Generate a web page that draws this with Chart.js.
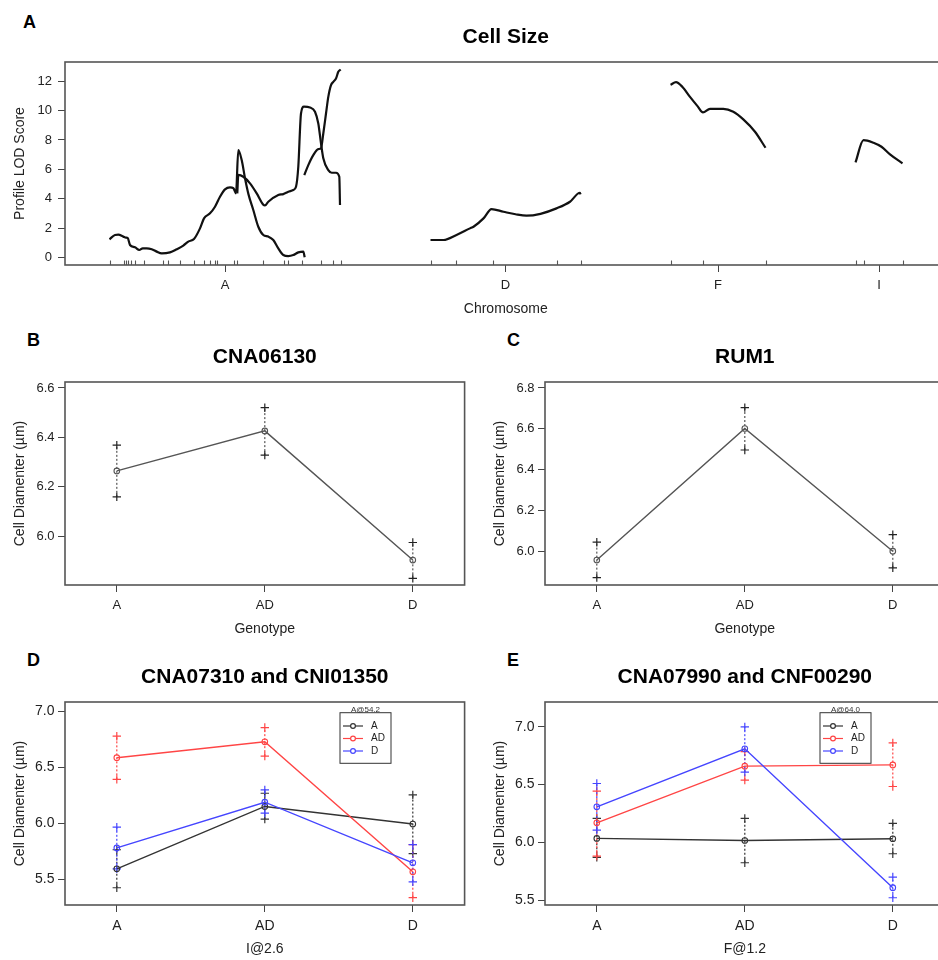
<!DOCTYPE html>
<html>
<head>
<meta charset="utf-8">
<title>Cell Size QTL</title>
<script src="https://cdn.jsdelivr.net/npm/chart.js@4.4.0/dist/chart.umd.min.js"></script>
<style>
    html, body { margin: 0; padding: 0; background: #fff; }
    body { width: 938px; height: 960px; overflow: hidden; position: relative; font-family: "Liberation Sans", Arial, sans-serif; }
    .panel { position: absolute; }
    .tag { position: absolute; font-weight: bold; font-size: 18px; line-height: 18px; color: #000; }
</style>
</head>
<body>
<div class="tag" style="left:23px;top:13px">A</div>
<div class="tag" style="left:27px;top:331px">B</div>
<div class="tag" style="left:507px;top:331px">C</div>
<div class="tag" style="left:27px;top:651px">D</div>
<div class="tag" style="left:507px;top:651px">E</div>

<div class="panel" style="left:0;top:0"><canvas id="chart-a" width="950" height="320"></canvas></div>
<div class="panel" style="left:0;top:320px"><canvas id="chart-b" width="470" height="320"></canvas></div>
<div class="panel" style="left:480px;top:320px"><canvas id="chart-c" width="470" height="320"></canvas></div>
<div class="panel" style="left:0;top:640px"><canvas id="chart-d" width="470" height="320"></canvas></div>
<div class="panel" style="left:480px;top:640px"><canvas id="chart-e" width="470" height="320"></canvas></div>

<script>
// --- Panel A: profile LOD (cM along chromosome, LOD) ---
const chromosomes = ['A', 'D', 'F', 'I'];
const chrLengths = [231, 150, 95, 47];
const chrGap = 90;
const lodTicks = [0, 2, 4, 6, 8, 10, 12];

const markersA = [0, 14.5, 16.5, 18.5, 21, 25, 34, 53, 58.5, 70.5, 84.5, 94.5, 100.5, 105.5, 107, 124.5, 127, 153, 174.5, 178, 192, 211.5, 223, 231];
const markersD = [0, 25, 62, 126, 150];
const markersF = [0, 32, 95];
const markersI = [0, 8.5, 47];

const lodA1 = [[0,1.25],[5.5,1.54],[8.8,1.56],[13.8,1.43],[16.5,1.36],[18.2,1.34],[20.5,0.86],[25.5,0.7],[29.8,0.52],[33.2,0.63],[37.2,0.63],[42.2,0.57],[47.2,0.41],[52.2,0.29],[60.5,0.36],[67.2,0.57],[73.8,0.82],[78.8,1.09],[84.5,1.27],[90.5,1.99],[94.5,2.67],[100.5,3.01],[105.5,3.46],[110.5,4.14],[115.5,4.64],[120.5,4.78],[123.8,4.72],[125.5,4.5],[126.5,4.37],[128.8,7.31],[132.2,6.63],[135.5,5.4],[139,4.3],[143.8,3.24],[148.8,2.1],[153.8,1.54],[158.8,1.43],[163.8,1.2],[168.8,0.63],[173.8,0.18],[178.8,0.11],[183.8,0.18],[188.8,0.36],[193.8,0.41],[195.2,0.02]];
const lodA2 = [[127.8,4.37],[128.8,5.62],[133.8,5.5],[140.5,5.05],[147.2,4.37],[153.8,3.6],[155.5,3.55],[158.8,3.8],[168.8,4.26],[173.8,4.32],[178.8,4.48],[183.8,4.6],[186.5,4.82],[188.8,6.18],[191.5,9.8],[194.5,10.26],[200.5,10.21],[205.5,9.92],[208.8,9.12],[211.5,7.77],[213.8,6.75],[218.8,5.95],[222.2,5.77],[226.5,5.77],[229.8,5.5],[230.5,3.58]];
const lodA3 = [[194.8,5.61],[198.8,6.29],[203.8,6.97],[208.8,7.38],[211.5,7.43],[213.8,8.44],[216.5,9.8],[218.8,10.93],[221.5,11.73],[223.8,11.95],[226.5,12.18],[228.8,12.63],[231.2,12.79]];
const lodD = [[0,1.2],[13,1.2],[26,1.54],[39.5,1.99],[43,2.1],[53,2.67],[61,3.3],[73,3.12],[85,2.95],[96,2.85],[110,2.98],[126,3.35],[139.5,3.8],[149.5,4.41],[150,4.3]];
const lodF = [[0,11.75],[5.5,11.93],[12,11.6],[19.5,10.93],[27,10.3],[32.5,9.87],[39.5,10.12],[52.8,10.12],[62.8,9.92],[72.8,9.4],[84.5,8.56],[95,7.47]];
const lodI = [[0,6.47],[8,7.99],[18,7.81],[26,7.54],[34.5,7.02],[47,6.41]];

// --- Panels B-E: cell diameter by genotype ---
const genotypes = ['A', 'AD', 'D'];

const cna06130Mean = [6.264, 6.426, 5.903];
const cna06130Upper = [6.368, 6.520, 5.974];
const cna06130Lower = [6.159, 6.328, 5.829];

const rum1Mean = [5.960, 6.602, 6.003];
const rum1Upper = [6.047, 6.704, 6.084];
const rum1Lower = [5.874, 6.497, 5.922];

// D: x = genotype at I@2.6, series = genotype at A@54.2
const dMeanA = [5.595, 6.151, 5.994];
const dUpperA = [5.765, 6.269, 6.254];
const dLowerA = [5.426, 6.038, 5.731];
const dMeanAD = [6.586, 6.728, 5.568];
const dUpperAD = [6.778, 6.855, 5.811];
const dLowerAD = [6.393, 6.600, 5.337];
const dMeanD = [5.781, 6.189, 5.648];
const dUpperD = [5.967, 6.299, 5.811];
const dLowerD = [5.595, 6.092, 5.479];

// E: x = genotype at F@1.2, series = genotype at A@64.0
const eMeanA = [6.034, 6.016, 6.031];
const eUpperA = [6.207, 6.207, 6.164];
const eLowerA = [5.870, 5.823, 5.901];
const eMeanAD = [6.169, 6.660, 6.671];
const eUpperAD = [6.443, 6.786, 6.862];
const eLowerAD = [5.881, 6.539, 6.484];
const eMeanD = [6.308, 6.810, 5.607];
const eUpperD = [6.510, 7.000, 5.699];
const eLowerD = [6.106, 6.608, 5.520];

// --- Shared styling ---
const FONT = '"Liberation Sans", Arial, Helvetica, sans-serif';
const RED = '#ff4545';
const BLUE = '#4545ff';
const DARK = '#333';

const chrStart = [];
chrLengths.forEach((len, i) => {
    chrStart.push(i === 0 ? 0 : chrStart[i - 1] + chrLengths[i - 1] + chrGap);
});
const chrMid = chrStart.map((s, i) => s + chrLengths[i] / 2);

// box around the plot region
const framePlugin = {
    id: 'frame',
    afterDatasetsDraw(chart) {
        const { ctx, chartArea: a } = chart;
        ctx.save();
        ctx.strokeStyle = '#555';
        ctx.lineWidth = 1.6;
        ctx.strokeRect(a.left, a.top, a.right - a.left, a.bottom - a.top);
        ctx.restore();
    }
};

// marker rug along the bottom of panel A
const rugPlugin = {
    id: 'rug',
    afterDatasetsDraw(chart) {
        const { ctx, chartArea: a, scales } = chart;
        ctx.save();
        ctx.strokeStyle = '#555';
        ctx.lineWidth = 1.1;
        [markersA, markersD, markersF, markersI].forEach((list, c) => {
            list.forEach(cm => {
                const px = Math.round(scales.x.getPixelForValue(chrStart[c] + cm)) + 0.5;
                ctx.beginPath();
                ctx.moveTo(px, a.bottom);
                ctx.lineTo(px, a.bottom - 4.5);
                ctx.stroke();
            });
        });
        ctx.restore();
    }
};

function makeLegend(title, names, colors) {
    return {
        id: 'genoLegend',
        afterDatasetsDraw(chart) {
            const { ctx, chartArea: a } = chart;
            const x = a.left + 275, y = a.top + 10.7, w = 51, h = 50.6;
            ctx.save();
            ctx.fillStyle = '#fff';
            ctx.fillRect(x, y, w, h);
            ctx.strokeStyle = '#333';
            ctx.lineWidth = 1;
            ctx.strokeRect(x, y, w, h);
            ctx.fillStyle = '#333';
            ctx.font = '8px ' + FONT;
            ctx.textAlign = 'center';
            ctx.textBaseline = 'alphabetic';
            ctx.fillText(title, x + w / 2, y - 0.5);
            names.forEach((n, i) => {
                const ry = y + 13.3 + i * 12.5;
                ctx.strokeStyle = colors[i];
                ctx.lineWidth = 1.2;
                ctx.beginPath();
                ctx.moveTo(x + 3, ry);
                ctx.lineTo(x + 23, ry);
                ctx.stroke();
                ctx.beginPath();
                ctx.fillStyle = '#fff';
                ctx.arc(x + 13, ry, 2.4, 0, Math.PI * 2);
                ctx.fill();
                ctx.stroke();
                ctx.fillStyle = '#222';
                ctx.font = '10px ' + FONT;
                ctx.textAlign = 'left';
                ctx.textBaseline = 'middle';
                ctx.fillText(n, x + 31, ry);
            });
            ctx.restore();
        }
    };
}

// 1. Common options
function buildOptions(cfg) {
    return {
        responsive: false,
        animation: false,
        events: [],
        layout: { padding: { left: 0, right: cfg.padRight, top: 0, bottom: 0 } },
        plugins: {
            legend: { display: false },
            tooltip: { enabled: false },
            title: {
                display: true,
                text: cfg.title,
                fullSize: false,
                color: '#000',
                font: { family: FONT, size: 21, weight: 'bold', lineHeight: 1.2 },
                padding: { top: 25, bottom: 11.8 }
            }
        },
        scales: {
            x: {
                type: 'linear',
                min: cfg.xMin,
                max: cfg.xMax,
                afterBuildTicks: axis => { axis.ticks = cfg.xTicks.map(v => ({ value: v })); },
                afterFit: axis => { axis.height = 55; },
                ticks: {
                    callback: (v, i) => cfg.xLabels[i],
                    color: '#222',
                    font: { family: FONT, size: cfg.tickSize },
                    padding: 6,
                    maxRotation: 0,
                    autoSkip: false
                },
                grid: { drawOnChartArea: false, drawTicks: true, tickLength: 7, color: '#444', tickColor: '#444' },
                border: { display: false },
                title: { display: true, text: cfg.xTitle, color: '#222', font: { family: FONT, size: 14 }, padding: { top: 0, bottom: 2 } }
            },
            y: {
                type: 'linear',
                min: cfg.yMin,
                max: cfg.yMax,
                afterBuildTicks: axis => { axis.ticks = cfg.yTicks.map(v => ({ value: v })); },
                afterFit: axis => { axis.width = 65; },
                ticks: {
                    callback: cfg.yFormat,
                    color: '#222',
                    font: { family: FONT, size: cfg.tickSize },
                    padding: cfg.yPad
                },
                grid: { drawOnChartArea: false, drawTicks: true, tickLength: 7, color: '#444', tickColor: '#444' },
                border: { display: false },
                title: { display: true, text: cfg.yTitle, color: '#222', font: { family: FONT, size: 14 }, padding: { top: 12, bottom: 0 } }
            }
        }
    };
}

// 2. Genotype series: mean line + dotted range with crosses
function genotypeSeries(name, means, uppers, lowers, lineColor, crossColor, order) {
    const sets = [{
        label: name,
        data: means.map((m, i) => ({ x: i + 1, y: m })),
        borderColor: lineColor,
        borderWidth: 1.4,
        pointStyle: 'circle',
        pointRadius: 2.8,
        pointBorderWidth: 1.1,
        pointBorderColor: lineColor,
        pointBackgroundColor: 'rgba(255,255,255,0)',
        order: order
    }];
    means.forEach((m, i) => {
        sets.push({
            label: name + ' ' + genotypes[i],
            data: [{ x: i + 1, y: lowers[i] }, { x: i + 1, y: uppers[i] }],
            borderColor: lineColor,
            borderWidth: 1.2,
            borderDash: [2, 2],
            pointStyle: 'cross',
            pointRadius: 4.2,
            pointBorderWidth: 1.2,
            pointBorderColor: crossColor,
            order: order + 10
        });
    });
    return sets;
}

function lodSet(chrIndex, curve) {
    return {
        data: curve.map(([cm, lod]) => ({ x: chrStart[chrIndex] + cm, y: lod })),
        borderColor: '#111',
        borderWidth: 2.2,
        pointRadius: 0,
        cubicInterpolationMode: 'monotone'
    };
}

const fmt1 = v => Number(v).toFixed(1);

// 3. Panel A
new Chart(document.getElementById('chart-a'), {
    type: 'line',
    data: {
        datasets: [
            lodSet(0, lodA1), lodSet(0, lodA2), lodSet(0, lodA3),
            lodSet(1, lodD), lodSet(2, lodF), lodSet(3, lodI)
        ]
    },
    options: buildOptions({
        title: 'Cell Size', xTitle: 'Chromosome', yTitle: 'Profile LOD Score',
        xMin: -44.5, xMax: 837.1, xTicks: chrMid, xLabels: chromosomes,
        yMin: -0.5, yMax: 13.3, yTicks: lodTicks, yFormat: v => String(v),
        tickSize: 13, yPad: 6, padRight: 3.4
    }),
    plugins: [framePlugin, rugPlugin]
});

// 4. Panels B and C
const genoBase = {
    xTitle: 'Genotype', yTitle: 'Cell Diamenter (µm)',
    xMin: 0.65, xMax: 3.35, xTicks: [1, 2, 3], xLabels: genotypes,
    yFormat: fmt1, tickSize: 13, yPad: 3.5, padRight: 3
};

new Chart(document.getElementById('chart-b'), {
    type: 'line',
    data: { datasets: genotypeSeries('CNA06130', cna06130Mean, cna06130Upper, cna06130Lower, '#555', '#222', 1) },
    options: buildOptions(Object.assign({}, genoBase, {
        title: 'CNA06130', yMin: 5.802, yMax: 6.624, yTicks: [6.0, 6.2, 6.4, 6.6]
    })),
    plugins: [framePlugin]
});

new Chart(document.getElementById('chart-c'), {
    type: 'line',
    data: { datasets: genotypeSeries('RUM1', rum1Mean, rum1Upper, rum1Lower, '#555', '#222', 1) },
    options: buildOptions(Object.assign({}, genoBase, {
        title: 'RUM1', yMin: 5.838, yMax: 6.829, yTicks: [6.0, 6.2, 6.4, 6.6, 6.8]
    })),
    plugins: [framePlugin]
});

// 5. Panels D and E
const seriesColors = [DARK, RED, BLUE];

new Chart(document.getElementById('chart-d'), {
    type: 'line',
    data: {
        datasets: [].concat(
            genotypeSeries('A', dMeanA, dUpperA, dLowerA, DARK, DARK, 3),
            genotypeSeries('AD', dMeanAD, dUpperAD, dLowerAD, RED, RED, 2),
            genotypeSeries('D', dMeanD, dUpperD, dLowerD, BLUE, BLUE, 1)
        )
    },
    options: buildOptions(Object.assign({}, genoBase, {
        title: 'CNA07310 and CNI01350', xTitle: 'I@2.6', tickSize: 14,
        yMin: 5.272, yMax: 7.083, yTicks: [5.5, 6.0, 6.5, 7.0]
    })),
    plugins: [framePlugin, makeLegend('A@54.2', genotypes, seriesColors)]
});

new Chart(document.getElementById('chart-e'), {
    type: 'line',
    data: {
        datasets: [].concat(
            genotypeSeries('A', eMeanA, eUpperA, eLowerA, DARK, DARK, 3),
            genotypeSeries('AD', eMeanAD, eUpperAD, eLowerAD, RED, RED, 2),
            genotypeSeries('D', eMeanD, eUpperD, eLowerD, BLUE, BLUE, 1)
        )
    },
    options: buildOptions(Object.assign({}, genoBase, {
        title: 'CNA07990 and CNF00290', xTitle: 'F@1.2', tickSize: 14,
        yMin: 5.457, yMax: 7.216, yTicks: [5.5, 6.0, 6.5, 7.0]
    })),
    plugins: [framePlugin, makeLegend('A@64.0', genotypes, seriesColors)]
});
</script>
</body>
</html>
